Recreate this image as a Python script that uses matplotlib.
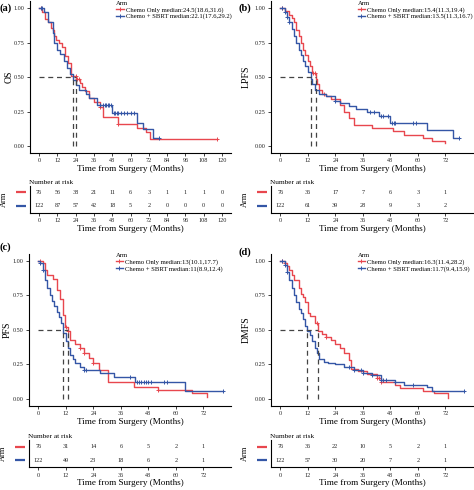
import numpy as np
import matplotlib
matplotlib.use('Agg')
import matplotlib.pyplot as plt

plt.rcParams['font.family'] = ['Liberation Serif', 'DejaVu Serif']

RED = '#E8474E'
BLUE = '#3456A6'

# ---------------- data ----------------
a_red_t = [0, 2, 4, 6, 8, 9, 10, 11, 13, 15, 17, 19, 21, 24.5, 27, 28, 30, 33, 36, 40, 42, 52, 64, 70, 73, 117]
a_red_s = [1.0, 0.97, 0.92, 0.90, 0.86, 0.84, 0.80, 0.77, 0.75, 0.72, 0.65, 0.60, 0.51, 0.49, 0.46, 0.43, 0.40, 0.35, 0.32, 0.28, 0.21, 0.16, 0.13, 0.10, 0.05, 0.05]
a_red_c = [1, 24, 25, 26, 40, 52, 117]
a_blue_t = [0, 3, 6, 9, 10, 12, 14, 16, 18, 20, 22.1, 24, 26, 30.5, 33, 38, 48, 64, 68, 75, 79]
a_blue_s = [1.0, 0.97, 0.90, 0.82, 0.75, 0.70, 0.67, 0.62, 0.57, 0.52, 0.48, 0.44, 0.41, 0.38, 0.35, 0.30, 0.24, 0.17, 0.12, 0.06, 0.06]
a_blue_c = [1, 2, 40, 42, 43, 44, 45, 46, 47, 49, 50, 51, 52, 54, 56, 58, 60, 62, 79]

b_red_t = [0, 2, 4, 5, 6, 7, 8, 9, 10, 11, 12, 13, 14, 15.4, 16, 17, 18, 20, 22, 26, 28, 30, 32, 40, 49, 54, 62, 66, 72]
b_red_s = [1.0, 0.98, 0.95, 0.93, 0.90, 0.84, 0.80, 0.75, 0.70, 0.66, 0.62, 0.58, 0.53, 0.49, 0.45, 0.41, 0.38, 0.36, 0.34, 0.30, 0.25, 0.20, 0.15, 0.13, 0.11, 0.08, 0.06, 0.04, 0.02]
b_red_c = [1, 14.5, 15, 19]
b_blue_t = [0, 2, 3, 4, 5, 6, 7, 8, 9, 10, 11, 12, 13.5, 14, 15, 17, 20, 24, 26, 30, 33, 38, 43, 48, 64, 75.5, 78]
b_blue_s = [1.0, 0.97, 0.94, 0.90, 0.85, 0.80, 0.75, 0.70, 0.66, 0.62, 0.58, 0.54, 0.49, 0.45, 0.41, 0.38, 0.36, 0.33, 0.31, 0.29, 0.27, 0.25, 0.22, 0.17, 0.115, 0.06, 0.06]
b_blue_c = [1, 2, 3, 4, 24, 39, 41, 44, 45, 47, 48.5, 49.5, 50, 58, 59, 78]

c_red_t = [0, 2, 3, 4, 6.5, 8, 9.5, 11, 11.7, 13, 14, 16, 18, 20, 22, 24, 26.4, 30.3, 41.7, 52, 67, 73.5]
c_red_s = [1.0, 0.98, 0.93, 0.90, 0.87, 0.79, 0.72, 0.61, 0.52, 0.49, 0.43, 0.40, 0.37, 0.33, 0.30, 0.26, 0.21, 0.12, 0.09, 0.065, 0.04, 0.015]
c_red_c = [1, 2, 12, 13, 18, 20, 24, 52]
c_blue_t = [0, 1, 2, 3, 4, 5, 6, 7, 8, 9, 10, 11, 12, 13, 14, 15, 16, 18, 20, 27, 33, 42, 64, 80.5]
c_blue_s = [1.0, 0.98, 0.93, 0.86, 0.80, 0.75, 0.71, 0.67, 0.63, 0.59, 0.55, 0.48, 0.42, 0.37, 0.32, 0.29, 0.26, 0.23, 0.21, 0.19, 0.16, 0.12, 0.055, 0.055]
c_blue_c = [1, 2, 20, 21, 40, 43, 44, 45, 46, 47, 48, 49, 55, 56, 80.5]

d_red_t = [0, 2, 3, 4, 5, 6, 8, 9, 10, 11, 12, 13, 15, 16.3, 18, 20, 22, 24, 26, 28, 30, 31, 34, 38, 42, 44, 50, 52, 62, 67, 73]
d_red_s = [1.0, 0.98, 0.96, 0.93, 0.90, 0.86, 0.80, 0.76, 0.74, 0.70, 0.62, 0.60, 0.55, 0.49, 0.47, 0.45, 0.43, 0.40, 0.37, 0.33, 0.28, 0.22, 0.20, 0.18, 0.15, 0.12, 0.10, 0.08, 0.06, 0.04, 0.01]
d_red_c = [1, 2, 16, 20, 42, 43, 44]
d_blue_t = [0, 2, 3, 4, 5, 6, 7, 8, 9, 10, 11, 11.7, 13, 14, 15, 16, 17, 19, 21, 24, 28, 32, 36, 40, 44, 50, 54, 64, 66, 80]
d_blue_s = [1.0, 0.97, 0.92, 0.86, 0.80, 0.75, 0.70, 0.65, 0.62, 0.58, 0.53, 0.49, 0.46, 0.42, 0.37, 0.33, 0.29, 0.27, 0.26, 0.25, 0.23, 0.21, 0.19, 0.17, 0.14, 0.12, 0.10, 0.09, 0.06, 0.06]
d_blue_c = [1, 2, 3, 30, 32, 35, 36, 40, 44, 45, 46, 50, 58, 80]

medians = {'a': (24.5, 22.1), 'b': (15.4, 13.5), 'c': (13, 11), 'd': (16.3, 11.7)}
legend_labels = {
    'a': ('Chemo Only median:24.5(18.6,31.6)', 'Chemo + SBRT median:22.1(17.6,29.2)'),
    'b': ('Chemo Only median:15.4(11.3,19.4)', 'Chemo + SBRT median:13.5(11.3,16.7)'),
    'c': ('Chemo Only median:13(10.1,17.7)', 'Chemo + SBRT median:11(8.9,12.4)'),
    'd': ('Chemo Only median:16.3(11.4,28.2)', 'Chemo + SBRT median:11.7(9.4,15.9)'),
}
ylabels = {'a': 'OS', 'b': 'LPFS', 'c': 'PFS', 'd': 'DMFS'}

risk_red = {'a': [76, 56, 38, 21, 11, 6, 3, 1, 1, 1, 0],
            'b': [76, 36, 17, 7, 6, 3, 1],
            'c': [76, 31, 14, 6, 5, 2, 1],
            'd': [76, 36, 22, 10, 5, 2, 1]}
risk_blue = {'a': [122, 87, 57, 42, 18, 5, 2, 0, 0, 0, 0],
             'b': [122, 61, 39, 28, 9, 3, 2],
             'c': [122, 49, 23, 18, 6, 2, 1],
             'd': [122, 57, 30, 20, 7, 2, 1]}

curves = {
    'a': ((a_red_t, a_red_s, a_red_c), (a_blue_t, a_blue_s, a_blue_c)),
    'b': ((b_red_t, b_red_s, b_red_c), (b_blue_t, b_blue_s, b_blue_c)),
    'c': ((c_red_t, c_red_s, c_red_c), (c_blue_t, c_blue_s, c_blue_c)),
    'd': ((d_red_t, d_red_s, d_red_c), (d_blue_t, d_blue_s, d_blue_c)),
}

# ---------------- layout (pixels) ----------------
W, H = 474, 490
fig = plt.figure(figsize=(W / 100, H / 100), dpi=100)
fig.set_facecolor('white')


def px_axes(x0, x1, y_top, y_bot):
    return fig.add_axes([x0 / W, 1 - y_bot / H, (x1 - x0) / W, (y_bot - y_top) / H])


panels = {
    'a': dict(x=(30, 231), main=(1.4, 152.9), risk=(185.7, 212.7), lab=(0, 8), yl=-16),
    'b': dict(x=(271, 473), main=(1.4, 152.9), risk=(185.7, 212.7), lab=(239, 8), yl=-20),
    'c': dict(x=(29, 231), main=(253.8, 405.9), risk=(439.9, 467.1), lab=(0, 247), yl=-17),
    'd': dict(x=(271, 473), main=(253.8, 405.9), risk=(439.9, 467.1), lab=(239, 252), yl=-20),
}

TICK_FS = 4.4
LAB_FS = 6.6


def style(ax):
    for s in ['top', 'right']:
        ax.spines[s].set_visible(False)
    for s in ['left', 'bottom']:
        ax.spines[s].set_linewidth(0.8)
    ax.tick_params(length=2.5, width=0.6, labelsize=TICK_FS, pad=1.5, colors='#222222')


def step_at(t, s, c):
    idx = np.searchsorted(np.array(t), np.array(c), side='right') - 1
    return np.array(s)[idx]


for key, p in panels.items():
    xmax_tick = 120 if key == 'a' else 72
    xlim = (-6, 126) if key == 'a' else (-4, 84)
    ticks = np.arange(0, xmax_tick + 1, 12)
    wpx = p['x'][1] - p['x'][0]

    ax = px_axes(p['x'][0], p['x'][1], p['main'][0], p['main'][1])
    style(ax)
    for (t, s, c), col in zip(curves[key], [RED, BLUE]):
        ax.step(t, s, where='post', color=col, lw=1.0)
        ax.plot(c, step_at(t, s, c), ls='none', marker='+', color=col,
                markersize=3.2, mew=0.7)
    m1, m2 = medians[key]
    ax.plot([0, max(m1, m2)], [0.5, 0.5], ls=(0, (4, 3)), color='#444444', lw=0.9)
    for m in (m1, m2):
        ax.plot([m, m], [0, 0.5], ls=(0, (4, 3)), color='#444444', lw=0.9)
    ax.set_xlim(*xlim)
    ax.set_ylim(-0.05, 1.05)
    ax.set_xticks(ticks)
    ax.set_yticks([0, 0.25, 0.5, 0.75, 1.0])
    ax.set_yticklabels(['0.00', '0.25', '0.50', '0.75', '1.00'])
    ax.set_xlabel('Time from Surgery (Months)', fontsize=LAB_FS, labelpad=1)
    ax.set_ylabel(ylabels[key], fontsize=7.0)
    ax.yaxis.set_label_coords(p['yl'] / wpx, 0.5)

    hs = [plt.Line2D([], [], color=RED, lw=1.0, marker='+', markersize=3.2, mew=0.7),
          plt.Line2D([], [], color=BLUE, lw=1.0, marker='+', markersize=3.2, mew=0.7)]
    leg = ax.legend(hs, legend_labels[key], title='Arm', loc='upper left',
                    bbox_to_anchor=(0.41, 1.03), frameon=False, fontsize=4.8,
                    title_fontsize=4.8, handlelength=1.1, handletextpad=0.3,
                    labelspacing=0.1, borderpad=0.1)
    leg._legend_box.align = 'left'

    fig.text(p['lab'][0] / W, 1 - p['lab'][1] / H, '(%s)' % key, fontsize=7.5,
             fontweight='bold', va='center', ha='left')

    # risk table
    rx = px_axes(p['x'][0], p['x'][1], p['risk'][0], p['risk'][1])
    style(rx)
    rx.set_xlim(*xlim)
    rx.set_ylim(0, 2)
    rx.set_xticks(ticks)
    rx.set_yticks([1.5, 0.5])
    rx.set_yticklabels(['', ''])
    rx.tick_params(axis='y', length=0)
    for vals, yv in ((risk_red[key], 1.5), (risk_blue[key], 0.5)):
        for xv, n in zip(ticks, vals):
            rx.text(xv, yv, str(n), ha='center', va='center', fontsize=TICK_FS,
                    color='#222222')
    for yv, col in ((1.5, RED), (0.5, BLUE)):
        rx.plot([-14.0 / wpx, -4.0 / wpx], [yv, yv], color=col, lw=1.6,
                transform=rx.get_yaxis_transform(), clip_on=False,
                solid_capstyle='butt')
    rx.set_ylabel('Arm', fontsize=6)
    rx.yaxis.set_label_coords(-22.0 / wpx, 0.5)
    rx.set_title('Number at risk', loc='left', fontsize=5.2, pad=1.5, x=-0.005)
    rx.set_xlabel('Time from Surgery (Months)', fontsize=LAB_FS, labelpad=1)

fig.savefig('out.png', dpi=100, facecolor='white')
